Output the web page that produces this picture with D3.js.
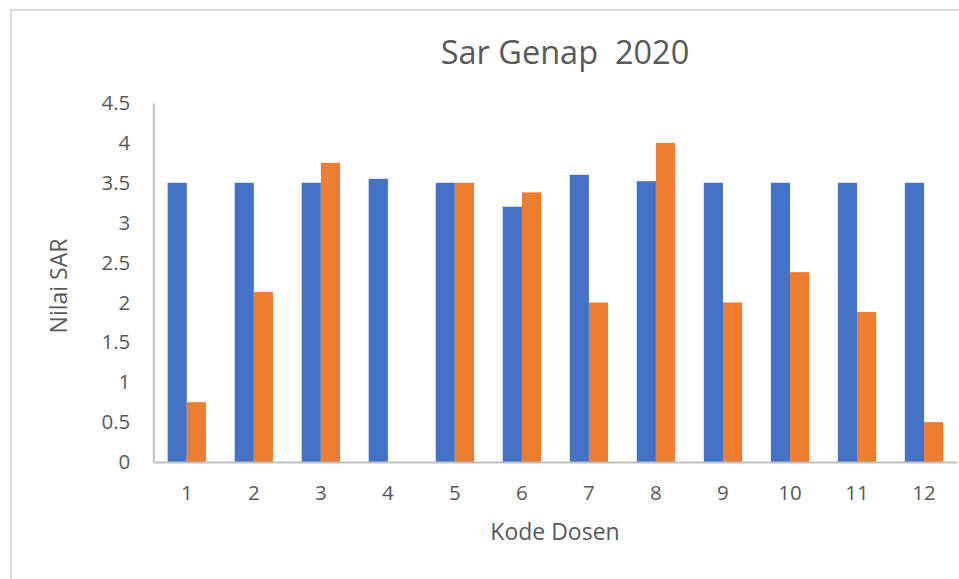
<!DOCTYPE html>
<html>
<head>
<meta charset="utf-8">
<script src="https://cdn.jsdelivr.net/npm/d3@7"></script>
<style>
  body { margin: 0; background: #fff; }
  text { font-family: "Open Sans", "Noto Sans", sans-serif; fill: #595959; }
</style>
</head>
<body>
<script>
var categories = ['1', '2', '3', '4', '5', '6', '7', '8', '9', '10', '11', '12'];
var series1 = [3.5, 3.5, 3.5, 3.55, 3.5, 3.2, 3.6, 3.52, 3.5, 3.5, 3.5, 3.5];
var series2 = [0.75, 2.13, 3.75, 0, 3.5, 3.38, 2.0, 4.0, 2.0, 2.38, 1.88, 0.5];
var yTicks = [0, 0.5, 1, 1.5, 2, 2.5, 3, 3.5, 4, 4.5];
var colors = ['#4472c4', '#ed7d31'];

(function () {
    var width = 959,
        height = 579,
        left = 153.3,
        right = 957.5,
        top = 103,
        bottom = 462,
        svg, x, x1, y, groups;

    svg = d3.select('body').append('svg')
        .attr('width', width)
        .attr('height', height);

    // chart frame
    svg.append('path')
        .attr('d', 'M11,' + height + 'V10H' + width)
        .attr('fill', 'none')
        .attr('stroke', '#d9d9d9')
        .attr('stroke-width', 2);

    x = d3.scaleBand().domain(categories).range([left, right]);
    x1 = d3.scaleBand().domain([0, 1]).range([0, x.bandwidth()])
        .paddingInner(0).paddingOuter(0.75);
    y = d3.scaleLinear().domain([0, 4.5]).range([bottom, top]);

    groups = svg.append('g').selectAll('g')
        .data(categories)
        .enter().append('g')
        .attr('transform', function (d) { return 'translate(' + x(d) + ',0)'; });

    groups.selectAll('rect')
        .data(function (d, i) { return [series1[i], series2[i]]; })
        .enter().append('rect')
        .attr('x', function (d, j) { return x1(j); })
        .attr('width', x1.bandwidth())
        .attr('y', function (d) { return y(d); })
        .attr('height', function (d) { return bottom - y(d); })
        .attr('fill', function (d, j) { return colors[j]; });

    // y axis
    var yAxis = svg.append('g')
        .attr('transform', 'translate(' + left + ',0)')
        .call(d3.axisLeft(y).tickValues(yTicks).tickSize(0).tickPadding(23)
            .tickFormat(function (d) { return String(d); }));
    yAxis.select('.domain').attr('stroke', '#bfbfbf').attr('stroke-width', 2);
    yAxis.selectAll('text').attr('font-size', 20.5).attr('fill', '#595959')
        .style('font-family', '"Open Sans", sans-serif');

    // x axis
    var xAxis = svg.append('g')
        .attr('transform', 'translate(0,' + bottom + ')')
        .call(d3.axisBottom(x).tickSize(0).tickPadding(23));
    xAxis.select('.domain').attr('stroke', '#bfbfbf').attr('stroke-width', 2);
    xAxis.selectAll('text').attr('font-size', 20.5).attr('fill', '#595959')
        .style('font-family', '"Open Sans", sans-serif');

    svg.append('text')
        .attr('x', 565)
        .attr('y', 64)
        .attr('text-anchor', 'middle')
        .attr('font-size', 32.5)
        .style('white-space', 'pre')
        .text('Sar Genap  2020');

    svg.append('text')
        .attr('x', 555)
        .attr('y', 540)
        .attr('text-anchor', 'middle')
        .attr('font-size', 23)
        .text('Kode Dosen');

    svg.append('text')
        .attr('transform', 'translate(67,286) rotate(-90)')
        .attr('text-anchor', 'middle')
        .attr('font-size', 23)
        .text('Nilai SAR');
}());
</script>
</body>
</html>
